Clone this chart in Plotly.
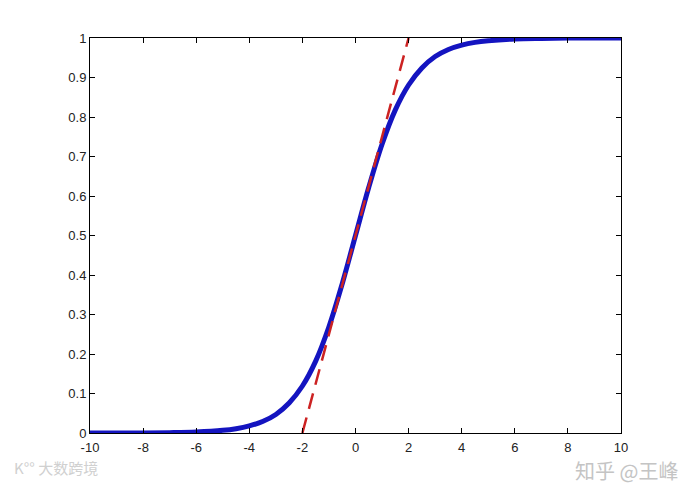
import plotly.graph_objects as go

# sigmoid curve, values
x_curve = [-10, -9, -8, -7, -6, -5, -4.5, -4, -3.5, -3, -2.5, -2, -1.5, -1, -0.5,
           0, 0.5, 1, 1.5, 2, 2.5, 3, 3.5, 4, 4.5, 5, 6, 7, 8, 9, 10]
y_curve = [0.0, 0.0001, 0.0003, 0.0009, 0.0025, 0.0067, 0.011, 0.018, 0.029, 0.047,
           0.076, 0.119, 0.182, 0.269, 0.378, 0.5, 0.622, 0.731, 0.818, 0.881,
           0.924, 0.953, 0.971, 0.982, 0.989, 0.993, 0.9975, 0.999, 0.9997, 0.9999, 1.0]

# tangent at the origin
x_tangent = [-2, 2]
y_tangent = [0, 1]

x_ticks = [-10, -8, -6, -4, -2, 0, 2, 4, 6, 8, 10]
x_tick_text = ["-10", "-8", "-6", "-4", "-2", "0", "2", "4", "6", "8", "10"]
y_ticks = [0, 0.1, 0.2, 0.3, 0.4, 0.5, 0.6, 0.7, 0.8, 0.9, 1]
y_tick_text = ["0", "0.1", "0.2", "0.3", "0.4", "0.5", "0.6", "0.7", "0.8", "0.9", "1"]

fig = go.Figure()
fig.add_trace(go.Scatter(x=x_curve, y=y_curve, mode="lines",
                         line=dict(color="#1414c0", width=5, shape="spline")))
fig.add_trace(go.Scatter(x=x_tangent, y=y_tangent, mode="lines",
                         line=dict(color="#cc2222", width=2.5, dash="16px,9px")))

axis_style = dict(showline=True, linecolor="black", linewidth=1, mirror="ticks",
                  ticks="inside", ticklen=5, tickcolor="black", showgrid=False,
                  zeroline=False, tickfont=dict(family="Liberation Sans, Arial", size=13, color="#222"))

fig.update_layout(
    width=688, height=490,
    margin=dict(l=82, r=75, t=30, b=65),
    plot_bgcolor="white", paper_bgcolor="white",
    showlegend=False,
    xaxis=dict(range=[-10, 10], tickvals=x_ticks, ticktext=x_tick_text,
               ticklabelstandoff=2, **axis_style),
    yaxis=dict(range=[0, 1], tickvals=y_ticks, ticktext=y_tick_text, **axis_style),
    annotations=[
        dict(text="知乎 @王峰", x=1.0, y=0, xref="paper", yref="paper", xanchor="right",
             yanchor="top", xshift=58, yshift=-22, showarrow=False, borderpad=0,
             font=dict(family="Noto Sans CJK SC", size=20, color="#c4c4c4")),
        dict(text="K°° 大数跨境", x=0, y=0, xref="paper", yref="paper", xanchor="left",
             yanchor="top", xshift=-78, yshift=-22, showarrow=False,
             font=dict(family="Noto Sans CJK SC", size=15, color="#d0d0d0")),
    ],
)

fig.write_html("out.html")
